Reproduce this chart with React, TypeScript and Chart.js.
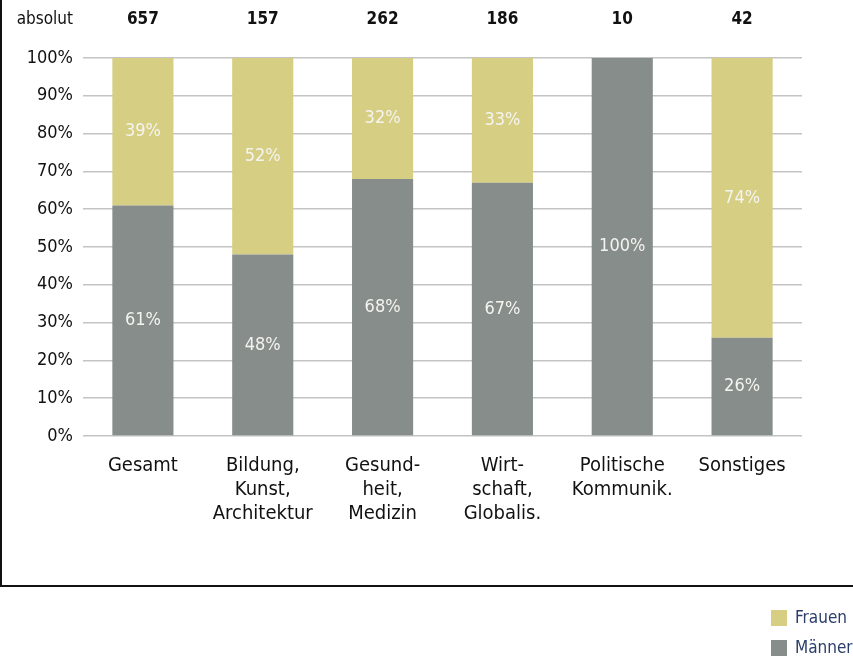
import React, { useEffect, useRef } from "react";
import { Chart, registerables } from "chart.js";

Chart.register(...registerables);

const categories: string[][] = [
  ["Gesamt"],
  ["Bildung,", "Kunst,", "Architektur"],
  ["Gesund-", "heit,", "Medizin"],
  ["Wirt-", "schaft,", "Globalis."],
  ["Politische", "Kommunik."],
  ["Sonstiges"],
];
const maenner = [61, 48, 68, 67, 100, 26];
const frauen = [39, 52, 32, 33, 0, 74];
const absolut = [657, 157, 262, 186, 10, 42];
const yTicks = [0, 10, 20, 30, 40, 50, 60, 70, 80, 90, 100];

const FONT = "'Liberation Sans Narrow', 'DejaVu Sans Condensed', 'Roboto Condensed', sans-serif";
const YELLOW = "#d6ce82";
const GRAY = "#868d8a";
const NAVY = "#2c3d6b";

const overlayPlugin = {
  id: "overlay",
  afterDatasetsDraw(chart: any) {
    const ctx = chart.ctx;
    ctx.save();
    // value labels
    ctx.font = `18px ${FONT}`;
    ctx.fillStyle = "#f4f4f0";
    ctx.textAlign = "center";
    ctx.textBaseline = "middle";
    chart.data.datasets.forEach((ds: any, di: number) => {
      const meta = chart.getDatasetMeta(di);
      meta.data.forEach((el: any, i: number) => {
        const v = ds.data[i];
        if (!v) return;
        ctx.fillText(`${v}%`, el.x, (el.y + el.base) / 2);
      });
    });
    // absolut row
    const area = chart.chartArea;
    ctx.fillStyle = "#111";
    ctx.font = `17px ${FONT}`;
    ctx.textAlign = "right";
    ctx.fillText("absolut", area.left - 10, 20);
    ctx.font = `bold 17px ${FONT}`;
    ctx.textAlign = "center";
    const meta0 = chart.getDatasetMeta(0);
    meta0.data.forEach((el: any, i: number) => {
      ctx.fillText(String(absolut[i]), el.x, 20);
    });
    // border
    ctx.strokeStyle = "#111";
    ctx.lineWidth = 2;
    ctx.beginPath();
    ctx.moveTo(1, 0);
    ctx.lineTo(1, 586);
    ctx.lineTo(chart.width, 586);
    ctx.stroke();
    // legend
    const items = [
      { label: "Frauen", color: YELLOW, y: 610 },
      { label: "Männer", color: GRAY, y: 640 },
    ];
    ctx.font = `17px ${FONT}`;
    ctx.textAlign = "left";
    items.forEach((it) => {
      ctx.fillStyle = it.color;
      ctx.fillRect(771, it.y, 16, 16);
      ctx.fillStyle = NAVY;
      ctx.fillText(it.label, 795, it.y + 9);
    });
    ctx.restore();
  },
};

export default function App() {
  const ref = useRef<HTMLCanvasElement>(null);
  useEffect(() => {
    document.body.style.margin = "0";
    const chart = new Chart(ref.current!, {
      type: "bar",
      data: {
        labels: categories,
        datasets: [
          { label: "Männer", data: maenner, backgroundColor: GRAY, barPercentage: 0.51, categoryPercentage: 1 },
          { label: "Frauen", data: frauen, backgroundColor: YELLOW, barPercentage: 0.51, categoryPercentage: 1 },
        ],
      },
      options: {
        animation: false,
        responsive: false,
        layout: { padding: { left: 0, right: 51, top: 58, bottom: 70 } },
        plugins: { legend: { display: false }, tooltip: { enabled: false } },
        scales: {
          x: {
            stacked: true,
            grid: { display: false, drawTicks: false },
            border: { display: false },
            ticks: { color: "#111", font: { family: FONT, size: 20, lineHeight: 1.2 }, padding: 18, maxRotation: 0, autoSkip: false },
            afterFit: (s: any) => { s.height = 150; },
          },
          y: {
            stacked: true,
            min: 0,
            max: 100,
            afterBuildTicks: (s: any) => { s.ticks = yTicks.map((v) => ({ value: v })); },
            grid: { color: "#c4c4c4", lineWidth: 1.5, drawTicks: false },
            border: { display: false },
            ticks: { color: "#111", font: { family: FONT, size: 18 }, padding: 10, callback: (v: any) => `${v}%` },
            afterFit: (s: any) => { s.width = 83; },
          },
        },
      },
      plugins: [overlayPlugin],
    });
    return () => chart.destroy();
  }, []);
  return <canvas ref={ref} width={853} height={656} style={{ display: "block" }} />;
}
